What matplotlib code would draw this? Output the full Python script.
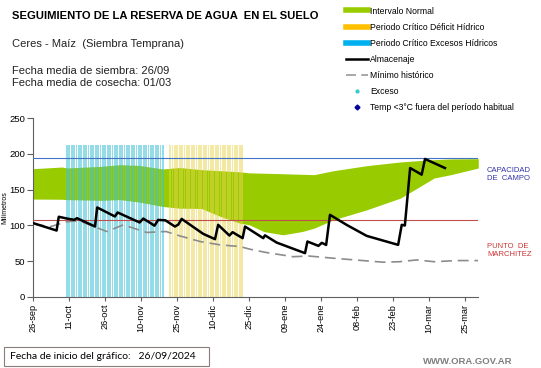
import matplotlib.pyplot as plt
from matplotlib.lines import Line2D
from matplotlib.patches import Rectangle
import numpy as np

# dias contados desde el 26-sep (inicio del grafico)
fechas_ticks = ["26-sep", "11-oct", "26-oct", "10-nov", "25-nov", "10-dic",
                "25-dic", "09-ene", "24-ene", "08-feb", "23-feb", "10-mar",
                "25-mar"]
dias_ticks = [0, 15, 30, 45, 60, 75, 90, 105, 120, 135, 150, 165, 180]

# intervalo normal (banda verde)
banda_dias = [0, 12, 14, 28, 36, 44, 54, 61, 70, 78, 86, 90, 96, 104, 112,
              117, 125, 139, 153, 160, 167, 174, 185.4]
banda_sup = [179.4, 181.7, 180.4, 182.6, 185, 184, 179, 181, 178, 176.5, 175,
             173.5, 173, 172.3, 171.5, 171, 176.5, 183.6, 188.8, 190.5, 192,
             193, 193.4]
banda_inf = [136.8, 136.5, 136, 135, 136, 132.6, 126.4, 124, 123.6, 112.4, 103,
             100.7, 91.3, 86.7, 91.3, 96, 107.7, 121.8, 138.2, 152.2, 166.3,
             171, 180.3]

# almacenaje
alm_dias = [0, 9.7, 10.6, 14, 17, 18.2, 25.7, 26.6, 34, 35.1, 44.3, 45.8, 50.5,
            52, 55, 59, 60.4, 61.8, 70.8, 75.7, 77, 81.7, 83, 87.2, 88.2, 95.8,
            96.5, 101.4, 113.2, 114.2, 118.8, 120.2, 122, 123.6, 130.6, 138.9,
            152, 153.5, 154.8, 157, 161.8, 163.2, 171.5]
alm_vals = [103, 92.7, 112, 109.5, 107.7, 110, 98.3, 125, 112.4, 118, 104,
            109.5, 99.5, 107.6, 107, 98.3, 101, 109, 88, 80.6, 100.7, 85.7,
            90.4, 82, 98.3, 82, 86, 75.8, 61, 77.3, 71.2, 75.5, 72.5, 114.7,
            100.5, 85.2, 72.6, 100.7, 99.7, 180.3, 171, 193, 180.3]

# minimo historico
min_dias = [0, 7, 14, 19, 30.6, 37.5, 47.2, 55.3, 61, 69.5, 77.8, 86, 90.3,
            97.2, 108.3, 114.7, 125, 145.8, 152.6, 159.7, 167, 176.4, 185.4]
min_vals = [102, 98, 105, 106.5, 91.3, 100.7, 90, 91.3, 85.2, 77.3, 72.6, 70.3,
            66.5, 61.8, 56, 57, 53.9, 48.3, 49, 51.5, 49, 50.6, 50.6]

capacidad_campo = 194
punto_marchitez = 107
alto_periodo = 212
# periodos criticos (primer y ultimo dia)
periodo_excesos = (14, 54)
periodo_deficit = (57, 87)

fig = plt.figure(figsize=(5.41, 3.68), dpi=100)
plt.rcParams['font.family'] = ['Liberation Sans', 'DejaVu Sans']
ax = fig.add_axes([0.0616, 0.1938, 0.8225, 0.4848])

ax.fill_between(banda_dias, banda_inf, banda_sup, color='#99CC00', lw=0,
                zorder=1)

dias_exc = np.arange(periodo_excesos[0], periodo_excesos[1] + 1)
dias_def = np.arange(periodo_deficit[0], periodo_deficit[1] + 1)
ax.bar(dias_exc, [alto_periodo] * len(dias_exc), width=0.72, color='#3FC0D8',
       alpha=0.55, lw=0, zorder=2)
ax.bar(dias_def, [alto_periodo] * len(dias_def), width=0.72, color='#E8D44D',
       alpha=0.5, lw=0, zorder=2)

ax.axhline(capacidad_campo, color='#4472C4', lw=0.8, zorder=3)
ax.axhline(punto_marchitez, color='#C0504D', lw=0.8, zorder=3)

ln, = ax.plot(min_dias, min_vals, color='#8C8C8C', lw=1.2, zorder=4)
ln.set_dashes([6.5, 3.5])
ax.plot(alm_dias, alm_vals, color='black', lw=1.8, zorder=5)

ax.set_xlim(0, 185.4)
ax.set_ylim(0, 250)
ax.set_yticks(range(0, 251, 50))
ax.set_xticks(dias_ticks)
ax.set_xticklabels(fechas_ticks, rotation=90, fontsize=6.6)
ax.tick_params(axis='y', labelsize=6.8, length=4, color='#606060', pad=2)
ax.tick_params(axis='x', length=3, color='#606060', pad=2)
for s in ['top', 'right']:
    ax.spines[s].set_visible(False)
for s in ['left', 'bottom']:
    ax.spines[s].set_color('#606060')
    ax.spines[s].set_linewidth(0.8)
ax.set_ylabel('Milímetros', fontsize=5)
ax.yaxis.set_label_coords(-0.056, 0.5)

# textos
fig.text(12 / 541, 1 - 16 / 368, 'SEGUIMIENTO DE LA RESERVA DE AGUA  EN EL SUELO',
         fontsize=8.15, weight='bold', va='center')
fig.text(12 / 541, 1 - 44 / 368, 'Ceres - Maíz  (Siembra Temprana)',
         fontsize=8, va='center', color='#222222')
fig.text(12 / 541, 1 - 71 / 368, 'Fecha media de siembra: 26/09',
         fontsize=8, va='center', color='#222222')
fig.text(12 / 541, 1 - 83 / 368, 'Fecha media de cosecha: 01/03',
         fontsize=8, va='center', color='#222222')

fig.text(487 / 541, 1 - 174.5 / 368, 'CAPACIDAD\nDE  CAMPO', fontsize=5.5,
         color='#3333AA', va='center', linespacing=1.2)
fig.text(487 / 541, 1 - 251 / 368, 'PUNTO  DE\nMARCHITEZ', fontsize=5.5,
         color='#CC3333', va='center', linespacing=1.2)

fig.patches.append(Rectangle((4 / 541, 1 - 366 / 368), 205 / 541, 19 / 368,
                             transform=fig.transFigure, fill=False,
                             edgecolor='#8C7B7B', lw=0.8))
fig.text(10 / 541, 1 - 356.5 / 368, 'Fecha de inicio del gráfico:   26/09/2024',
         fontsize=7.5, va='center', family=['Lato', 'DejaVu Sans'])
fig.text(512 / 541, 1 - 361 / 368, 'WWW.ORA.GOV.AR', fontsize=6.8,
         weight='bold', color='#7F7F7F', ha='right', va='center')

# leyenda
handles = [
    Line2D([], [], color='#99CC00', lw=4),
    Line2D([], [], color='#FFC000', lw=4),
    Line2D([], [], color='#00B0F0', lw=4),
    Line2D([], [], color='black', lw=1.8),
    Line2D([], [], color='#909090', lw=1.1, dashes=[6.5, 3.5]),
    Line2D([], [], color='#33CCCC', ls='none', marker='o', ms=2),
    Line2D([], [], color='#000099', ls='none', marker='D', ms=2.5),
]
labels = ['Intervalo Normal', 'Periodo Crítico Déficit Hídrico',
          'Periodo Crítico Excesos Hídricos', 'Almacenaje', 'Mínimo histórico',
          'Exceso', 'Temp <3°C fuera del período habitual']
fig.legend(handles, labels, loc='upper left',
           bbox_to_anchor=(346 / 541, 1 - 6.5 / 368), frameon=False,
           fontsize=6.2, handlelength=2.5, handletextpad=0.3,
           labelspacing=0.82, borderpad=0, borderaxespad=0)

fig.savefig('out.png', dpi=100)
